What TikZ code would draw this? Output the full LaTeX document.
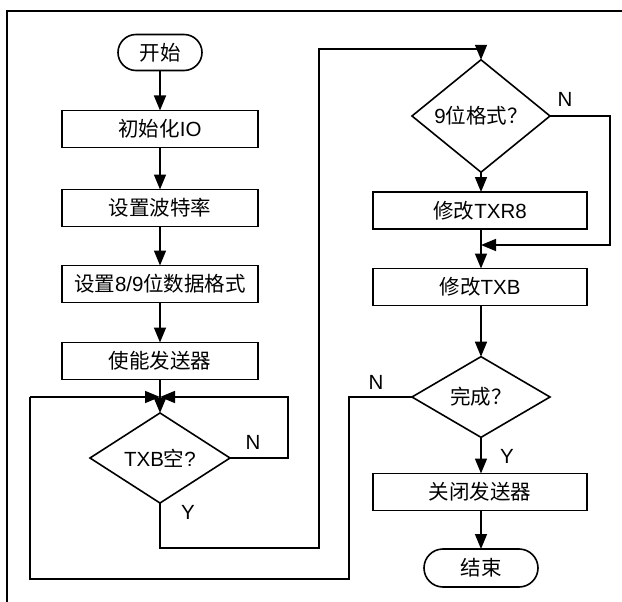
\documentclass[tikz,border=0pt]{standalone}
\usepackage{fontspec}
\setmainfont{Liberation Sans}
\newfontfamily\cjk{Noto Sans CJK SC}
\usetikzlibrary{shapes.geometric,shapes.misc,arrows.meta}
\begin{document}
\begin{tikzpicture}[x=1pt,y=-1pt,
  every node/.style={font=\fontsize{20.5}{24}\selectfont, inner sep=0pt, outer sep=0pt},
  proc/.style={draw, line width=1.6pt, rectangle, minimum height=37pt},
  lproc/.style={proc, minimum width=196pt},
  rproc/.style={proc, minimum width=214pt},
  term/.style={draw, line width=1.6pt, rounded rectangle, minimum height=36pt},
  dec/.style={draw, line width=1.6pt, diamond, minimum width=138pt, minimum height=76pt},
  line/.style={line width=1.6pt},
  arr/.style={line, -{Triangle[length=15pt,width=12pt]}},
  lab/.style={font=\fontsize{20.5}{24}\selectfont}]
\useasboundingbox (0,0) rectangle (622,602);
\draw[line] (622,11) -- (7,11) -- (7,602);
% left column
\node[term, minimum width=84pt] (start) at (160,52.5) {\cjk 开始};
\node[lproc] (init) at (160,129) {{\cjk 初始化}IO};
\node[lproc] (baud) at (160,208) {\cjk 设置波特率};
\node[lproc] (fmt) at (160,284) {{\cjk 设置}8/9{\cjk 位数据格式}};
\node[lproc] (en) at (160,361) {\cjk 使能发送器};
\coordinate (j1) at (160,397);
\node[dec, minimum width=140pt, minimum height=75pt] (tx) at (160,458) {TXB{\cjk 空}?};
% right column
\node[dec] (f9) at (481,116) {9{\cjk 位格式？}};
\node[rproc] (r8) at (480,210.5) {{\cjk 修改}TXR8};
\node[rproc] (txb) at (480,287) {{\cjk 修改}TXB};
\node[dec] (done) at (481,397) {\cjk 完成？};
\node[rproc] (off) at (480,492) {\cjk 关闭发送器};
\node[term, minimum width=114pt, minimum height=38pt] (end) at (481,568) {\cjk 结束};
% coordinates
\coordinate (lnA) at (30,397);
\coordinate (lnC) at (288,458);
\coordinate (lnB) at (288,397);
\coordinate (ty1) at (160,548);
\coordinate (ty2) at (319,548);
\coordinate (ty3) at (319,49);
\coordinate (ty4) at (481,49);
\coordinate (n9a) at (610,116);
\coordinate (n9b) at (610,245);
\coordinate (n9c) at (481,245);
\coordinate (dn1) at (349,397);
\coordinate (dn2) at (349,579);
\coordinate (dn3) at (30,579);
% connectors
\draw[arr] (start) -- (init);
\draw[arr] (init) -- (baud);
\draw[arr] (baud) -- (fmt);
\draw[arr] (fmt) -- (en);
\draw[arr] (en) -- (tx.north);
\draw[arr] (lnA) -- (j1);
\draw[arr] (tx.east) -- (lnC) -- (lnB) -- (j1);
\draw[arr] (tx.south) -- (ty1) -- (ty2) -- (ty3) -- (ty4) -- (f9.north);
\draw[arr] (f9.south) -- (r8.north -| f9.south);
\draw[line] (r8.south -| f9.south) -- (n9c);
\draw[arr] (f9.east) -- (n9a) -- (n9b) -- (n9c);
\draw[arr] (n9c) -- (txb.north -| n9c);
\draw[arr] (txb.south -| done.north) -- (done.north);
\draw[arr] (done.south) -- (off.north -| done.south);
\draw[arr] (off.south -| end.north) -- (end.north);
\draw[line] (done.west) -- (dn1) -- (dn2) -- (dn3) -- (lnA);
% labels
\node[lab] at (253,442) {N};
\node[lab] at (188,512) {Y};
\node[lab] at (565,99) {N};
\node[lab] at (376,382) {N};
\node[lab] at (507,456) {Y};
\end{tikzpicture}
\end{document}
